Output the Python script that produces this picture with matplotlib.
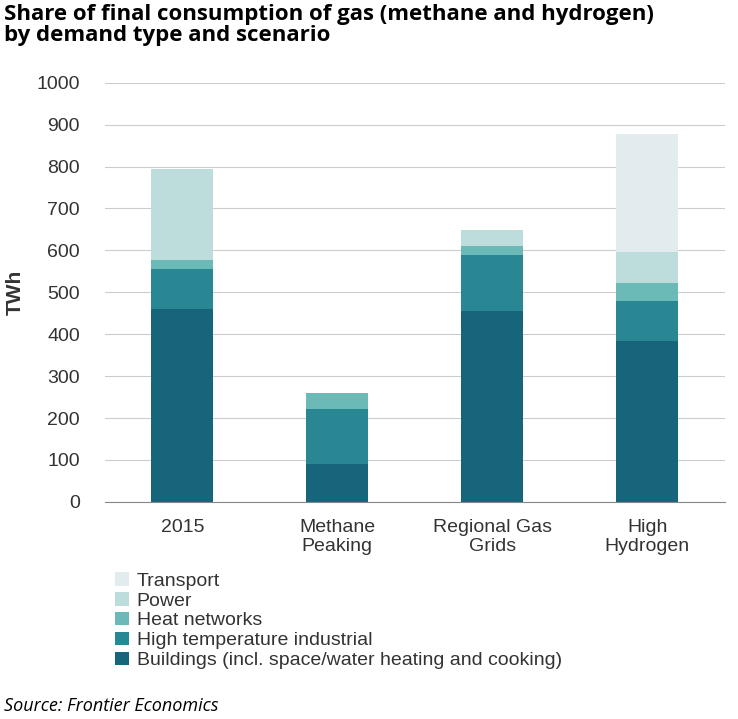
import matplotlib
matplotlib.use("Agg")
import matplotlib.pyplot as plt
import numpy as np

plt.rcParams["font.family"] = ["Liberation Sans", "DejaVu Sans"]

categories = ["2015", "Methane\nPeaking", "Regional Gas\nGrids", "High\nHydrogen"]
series_names = ["Buildings (incl. space/water heating and cooking)", "High temperature industrial",
                "Heat networks", "Power", "Transport"]
buildings = [460, 90, 455, 383]
hti = [95, 132, 135, 97]
heat = [23, 38, 20, 43]
power = [215, 0, 38, 72]
transport = [0, 0, 0, 282]
colors = ["#17657a", "#288792", "#6bbab8", "#bddcdc", "#e2ecee"]

fig = plt.figure(figsize=(7.38, 7.19), dpi=100)
ax = fig.add_axes([0.142, 0.302, 0.84, 0.583])
x = np.arange(len(categories))
bottom = np.zeros(len(categories))
handles = []
for name, vals, c in zip(series_names, [buildings, hti, heat, power, transport], colors):
    h = ax.bar(x, vals, 0.4, bottom=bottom, color=c, label=name)
    bottom += np.array(vals)
    handles.append(h)
ax.set_ylim(0, 1000)
ax.set_xlim(-0.5, 3.5)
ax.set_yticks(range(0, 1001, 100))
ax.yaxis.grid(True, color="#cccccc", lw=0.8)
ax.set_axisbelow(True)
for s in ["top", "right", "left"]:
    ax.spines[s].set_visible(False)
ax.spines["bottom"].set_color("#888888")
ax.tick_params(axis="y", length=0, labelsize=14, colors="#333333", pad=18)
ax.tick_params(axis="x", length=0, labelsize=14, colors="#333333", pad=12)
ax.set_xticks(x)
ax.set_xticklabels(categories)
ax.set_ylabel("TWh", fontsize=15, fontweight="bold", color="#333333", labelpad=8)
fig.text(0.005, 0.995, "Share of final consumption of gas (methane and hydrogen)\nby demand type and scenario",
         fontsize=16, fontweight="bold", va="top", ha="left", linespacing=1.05, family="Open Sans")
fig.legend(handles[::-1], series_names[::-1], loc="upper left", bbox_to_anchor=(0.143, 0.218),
           frameon=False, fontsize=14, handlelength=0.7, handleheight=0.7, handletextpad=0.4,
           labelspacing=0.12, borderpad=0, labelcolor="#333333")
fig.text(0.005, 0.03, "Source: Frontier Economics", fontsize=13, style="italic", va="top", family="Open Sans")
fig.savefig("out.png")
